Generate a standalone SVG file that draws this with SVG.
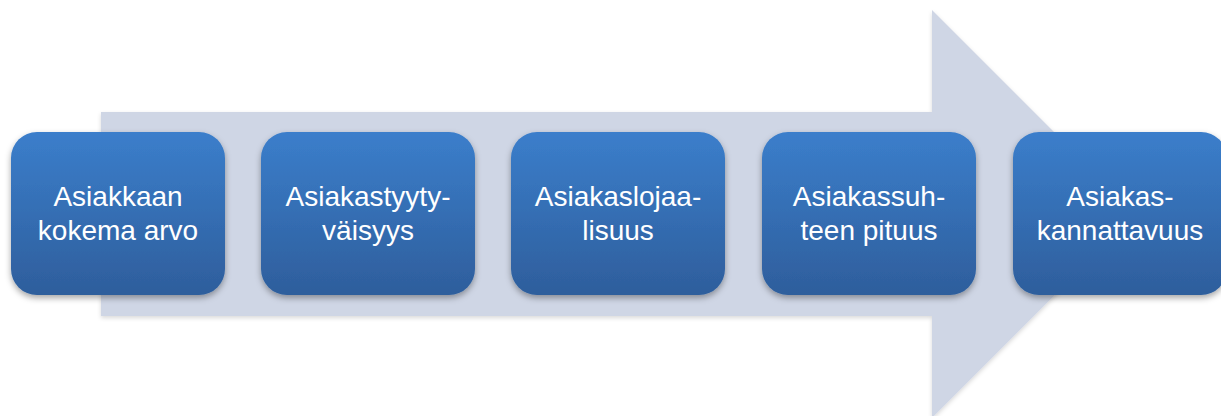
<svg xmlns="http://www.w3.org/2000/svg" width="1221" height="416" viewBox="0 0 1221 416">
<defs>
<linearGradient id="boxGrad" x1="0" y1="0" x2="0" y2="1">
<stop offset="0" stop-color="#3b7ecb"/>
<stop offset="1" stop-color="#2e5e9c"/>
</linearGradient>
<filter id="shadow" x="-10%" y="-10%" width="120%" height="130%">
<feDropShadow dx="0" dy="3" stdDeviation="3" flood-color="#000" flood-opacity="0.35"/>
</filter>
<filter id="ashadow" x="-5%" y="-5%" width="110%" height="110%">
<feDropShadow dx="0" dy="2" stdDeviation="2" flood-color="#000" flood-opacity="0.15"/>
</filter>
</defs>
<style>
.box{fill:url(#boxGrad);filter:url(#shadow);}
.lbl{font-family:"Liberation Sans",Arial,sans-serif;font-size:28px;fill:#ffffff;text-anchor:middle;}
</style>
<g id="connectors">
<polygon points="101,112 932,112 932,10 1136,214 932,418 932,316 101,316" fill="#cfd6e5" filter="url(#ashadow)"/>
</g>
<g id="node1">
<rect class="box" x="11" y="132" width="214" height="163" rx="26"/>
<text class="lbl" x="118" y="206">Asiakkaan</text>
<text class="lbl" x="118" y="240">kokema arvo</text>
</g>
<g id="node2">
<rect class="box" x="261" y="132" width="214" height="163" rx="26"/>
<text class="lbl" x="368" y="206">Asiakastyyty-</text>
<text class="lbl" x="368" y="240">väisyys</text>
</g>
<g id="node3">
<rect class="box" x="511" y="132" width="214" height="163" rx="26"/>
<text class="lbl" x="618" y="206">Asiakaslojaa-</text>
<text class="lbl" x="618" y="240">lisuus</text>
</g>
<g id="node4">
<rect class="box" x="762" y="132" width="214" height="163" rx="26"/>
<text class="lbl" x="869" y="206">Asiakassuh-</text>
<text class="lbl" x="869" y="240">teen pituus</text>
</g>
<g id="node5">
<rect class="box" x="1013" y="132" width="214" height="163" rx="26"/>
<text class="lbl" x="1120" y="206">Asiakas-</text>
<text class="lbl" x="1120" y="240">kannattavuus</text>
</g>
</svg>
